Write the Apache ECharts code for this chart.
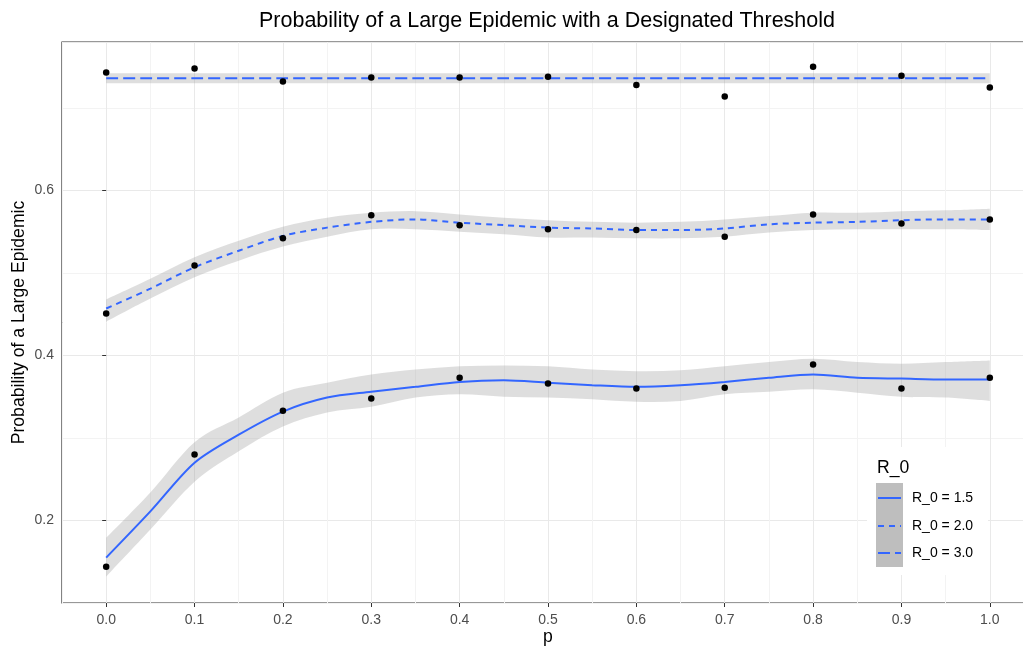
<!DOCTYPE html>
<html>
<head>
<meta charset="utf-8">
<script src="https://cdn.jsdelivr.net/npm/echarts@6/dist/echarts.min.js"></script>
<style>
  html, body { margin: 0; padding: 0; background: #fff; }
  #chart { width: 1023px; height: 647px; }
</style>
</head>
<body>
<div id="chart"></div>
<script>
// ---- data ----
const titleText = 'Probability of a Large Epidemic with a Designated Threshold';
const xTickValues = [0.0, 0.1, 0.2, 0.3, 0.4, 0.5, 0.6, 0.7, 0.8, 0.9, 1.0];
const yTickValues = [0.2, 0.4, 0.6];
const seriesNames = ['R_0 = 1.5', 'R_0 = 2.0', 'R_0 = 3.0'];

// observed points
const pObs = [0.0, 0.1, 0.2, 0.3, 0.4, 0.5, 0.6, 0.7, 0.8, 0.9, 1.0];
const obsR15 = [0.144, 0.280, 0.333, 0.348, 0.373, 0.366, 0.360, 0.361, 0.389, 0.360, 0.373];
const obsR20 = [0.451, 0.509, 0.542, 0.570, 0.558, 0.553, 0.552, 0.544, 0.571, 0.560, 0.565];
const obsR30 = [0.743, 0.748, 0.732, 0.737, 0.737, 0.738, 0.728, 0.714, 0.750, 0.739, 0.725];

// smoothed fits and confidence bands
const pFit = [0.00, 0.05, 0.10, 0.15, 0.20, 0.25, 0.30, 0.35, 0.40, 0.45, 0.50, 0.55, 0.60, 0.65, 0.70, 0.75, 0.80, 0.85, 0.90, 0.95, 1.00];
const fitR15 = [0.155, 0.211, 0.270, 0.304, 0.332, 0.349, 0.356, 0.362, 0.368, 0.370, 0.367, 0.364, 0.362, 0.364, 0.368, 0.373, 0.377, 0.373, 0.372, 0.371, 0.371];
const loR15  = [0.132, 0.189, 0.247, 0.284, 0.314, 0.331, 0.338, 0.349, 0.353, 0.350, 0.349, 0.347, 0.344, 0.345, 0.353, 0.356, 0.359, 0.355, 0.350, 0.349, 0.345];
const hiR15  = [0.179, 0.234, 0.295, 0.325, 0.355, 0.367, 0.377, 0.383, 0.387, 0.388, 0.387, 0.383, 0.381, 0.382, 0.387, 0.392, 0.396, 0.392, 0.390, 0.392, 0.394];
const fitR20 = [0.457, 0.481, 0.507, 0.527, 0.545, 0.555, 0.562, 0.565, 0.561, 0.558, 0.555, 0.554, 0.552, 0.552, 0.554, 0.559, 0.561, 0.562, 0.564, 0.565, 0.565];
const loR20  = [0.441, 0.469, 0.495, 0.515, 0.532, 0.544, 0.553, 0.553, 0.550, 0.547, 0.543, 0.543, 0.542, 0.542, 0.544, 0.549, 0.552, 0.553, 0.553, 0.553, 0.552];
const hiR20  = [0.468, 0.493, 0.519, 0.539, 0.556, 0.567, 0.573, 0.575, 0.571, 0.567, 0.564, 0.562, 0.561, 0.562, 0.565, 0.569, 0.573, 0.573, 0.575, 0.576, 0.578];
const fitR30 = [0.736, 0.736, 0.736, 0.736, 0.736, 0.736, 0.736, 0.736, 0.736, 0.736, 0.736, 0.736, 0.736, 0.736, 0.736, 0.736, 0.736, 0.736, 0.736, 0.736, 0.736];
const loR30  = [0.730, 0.730, 0.730, 0.730, 0.730, 0.730, 0.730, 0.730, 0.730, 0.730, 0.730, 0.730, 0.730, 0.730, 0.730, 0.730, 0.730, 0.730, 0.730, 0.730, 0.730];
const hiR30  = [0.742, 0.742, 0.742, 0.742, 0.742, 0.742, 0.742, 0.742, 0.742, 0.742, 0.742, 0.742, 0.742, 0.742, 0.742, 0.742, 0.742, 0.742, 0.742, 0.742, 0.742];

// ---- styling ----
const FONT = '"Liberation Sans", Arial, sans-serif';
const LINE_BLUE = '#3366FF';
const BAND = 'rgba(153,153,153,0.32)';
const dashes = ['solid', [6, 5], [12, 5]];

const pair = (xs, ys) => xs.map((x, i) => [x, ys[i]]);

// Catmull-Rom style cubic path through pixel points (rendering only)
function curveSegs(pts) {
  let d = '';
  for (let i = 0; i < pts.length - 1; i++) {
    const p0 = pts[i - 1] || pts[i], p1 = pts[i], p2 = pts[i + 1], p3 = pts[i + 2] || pts[i + 1];
    const c1 = [p1[0] + (p2[0] - p0[0]) / 6, p1[1] + (p2[1] - p0[1]) / 6];
    const c2 = [p2[0] - (p3[0] - p1[0]) / 6, p2[1] - (p3[1] - p1[1]) / 6];
    d += ' C' + c1[0] + ',' + c1[1] + ' ' + c2[0] + ',' + c2[1] + ' ' + p2[0] + ',' + p2[1];
  }
  return d;
}

function bandSeries(key, lo, hi) {
  const rows = pFit.map((x, i) => [x, lo[i], hi[i]]);
  return {
    type: 'custom', name: key + ' band', silent: true, z: 1, clip: true,
    encode: { x: 0, y: [1, 2] },
    data: rows,
    renderItem: function (params, api) {
      if (params.dataIndex !== 0) return null;
      const upper = rows.map(r => api.coord([r[0], r[2]]));
      const lower = rows.map(r => api.coord([r[0], r[1]])).reverse();
      const d = 'M' + upper[0][0] + ',' + upper[0][1] + curveSegs(upper) +
                ' L' + lower[0][0] + ',' + lower[0][1] + curveSegs(lower) + ' Z';
      return { type: 'path', shape: { pathData: d }, style: { fill: BAND } };
    }
  };
}
function fitSeries(name, fit, dash) {
  return { type: 'line', name: name, data: pair(pFit, fit), smooth: 0.3, symbol: 'none',
    lineStyle: { color: LINE_BLUE, width: 2, type: dash }, z: 3 };
}
function pointSeries(name, obs) {
  return { type: 'scatter', name: name + ' obs', data: pair(pObs, obs), symbol: 'circle', symbolSize: 6.5,
    itemStyle: { color: '#000', opacity: 1 }, z: 5 };
}

const chart = echarts.init(document.getElementById('chart'), null, { renderer: 'canvas' });

const legendX = 867, legendY = 447;
const legendRows = [498, 526, 553];

chart.setOption({
  animation: false,
  backgroundColor: '#ffffff',
  title: {
    text: titleText, left: 542, top: 5, textAlign: 'center',
    textStyle: { fontFamily: FONT, fontSize: 21.5, fontWeight: 'normal', color: '#000' }
  },
  grid: { left: 62, top: 42, right: -11, bottom: 44, show: true, borderColor: '#333', borderWidth: 1.2,
    backgroundColor: '#fff', containLabel: false, outerBoundsMode: 'none' },
  xAxis: [
    { type: 'value', min: -0.05, max: 1.05, interval: 0.05,
      axisLine: { show: false }, axisTick: { show: false }, axisLabel: { show: false },
      splitLine: { show: true, lineStyle: { color: ['#f3f3f3', '#e9e9e9'], width: 1 } } },
    { type: 'value', min: -0.05, max: 1.05, position: 'bottom',
      axisLine: { show: false },
      axisTick: { show: true, customValues: xTickValues, length: 4, lineStyle: { color: '#333', width: 1 } },
      axisLabel: { customValues: xTickValues, formatter: v => v.toFixed(1), color: '#4d4d4d', fontFamily: FONT, fontSize: 14, margin: 10 },
      splitLine: { show: false },
      name: 'p', nameLocation: 'middle', nameGap: 25, nameMoveOverlap: false,
      nameTextStyle: { fontFamily: FONT, fontSize: 17.6, color: '#000' } }
  ],
  yAxis: [
    { type: 'value', min: 0.1, max: 0.78, interval: 0.1,
      axisLine: { show: false }, axisTick: { show: false }, axisLabel: { show: false },
      splitLine: { show: true, lineStyle: { color: ['#f3f3f3', '#e9e9e9'], width: 1 } } },
    { type: 'value', min: 0.1, max: 0.78, position: 'left',
      axisLine: { show: false },
      axisTick: { show: true, customValues: yTickValues, length: 4, lineStyle: { color: '#333', width: 1 } },
      axisLabel: { customValues: yTickValues, formatter: v => v.toFixed(1), color: '#4d4d4d', fontFamily: FONT, fontSize: 14, margin: 8 },
      splitLine: { show: false },
      name: 'Probability of a Large Epidemic', nameLocation: 'middle', nameGap: 34, nameRotate: 90, nameMoveOverlap: false,
      nameTextStyle: { fontFamily: FONT, fontSize: 17.6, color: '#000' } }
  ],
  series: [
    bandSeries('r15', loR15, hiR15),
    bandSeries('r20', loR20, hiR20),
    bandSeries('r30', loR30, hiR30),
    fitSeries(seriesNames[0], fitR15, dashes[0]),
    fitSeries(seriesNames[1], fitR20, dashes[1]),
    fitSeries(seriesNames[2], fitR30, dashes[2]),
    pointSeries(seriesNames[0], obsR15),
    pointSeries(seriesNames[1], obsR20),
    pointSeries(seriesNames[2], obsR30)
  ],
  graphic: [
    { type: 'rect', z: 100, shape: { x: legendX, y: legendY, width: 121, height: 128 }, style: { fill: '#ffffff' } },
    { type: 'text', z: 101, x: 877, y: 468, style: { text: 'R_0', fontFamily: FONT, fontSize: 17.6, fill: '#000', verticalAlign: 'middle' } },
    { type: 'rect', z: 101, shape: { x: 876, y: 483, width: 27, height: 84 }, style: { fill: '#bebebe' } },
    ...legendRows.map((ry, i) => ({ type: 'line', z: 102, shape: { x1: 878, y1: ry, x2: 901, y2: ry },
      style: { stroke: LINE_BLUE, lineWidth: 2, lineDash: i === 0 ? null : dashes[i] } })),
    ...legendRows.map((ry, i) => ({ type: 'text', z: 102, x: 912, y: ry,
      style: { text: seriesNames[i], fontFamily: FONT, fontSize: 14, fill: '#000', verticalAlign: 'middle' } }))
  ]
});
</script>
</body>
</html>
